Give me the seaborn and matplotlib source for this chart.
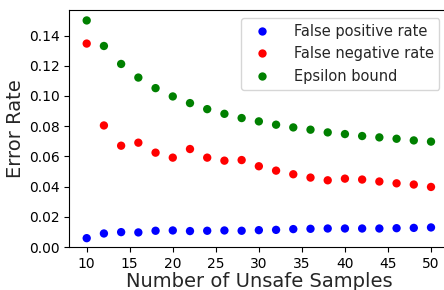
import matplotlib
matplotlib.use("Agg")
import matplotlib.pyplot as plt
import seaborn as sns
import pandas as pd

samples = [10, 12, 14, 16, 18, 20, 22, 24, 26, 28, 30, 32, 34, 36, 38, 40, 42, 44, 46, 48, 50]
false_positive = [0.0059, 0.0090, 0.0099, 0.0097, 0.0108, 0.0110, 0.0106, 0.0108, 0.0110, 0.0108,
                  0.0112, 0.0114, 0.0119, 0.0121, 0.0123, 0.0123, 0.0123, 0.0123, 0.0125, 0.0127, 0.0130]
false_negative = [0.1347, 0.0805, 0.0671, 0.0691, 0.0625, 0.0592, 0.0649, 0.0592, 0.0572, 0.0576,
                  0.0535, 0.0506, 0.0482, 0.0460, 0.0442, 0.0453, 0.0447, 0.0434, 0.0422, 0.0414, 0.0398]
epsilon = [0.1500, 0.1331, 0.1212, 0.1122, 0.1052, 0.0997, 0.0953, 0.0913, 0.0882, 0.0854,
           0.0832, 0.0810, 0.0792, 0.0777, 0.0759, 0.0748, 0.0735, 0.0726, 0.0717, 0.0706, 0.0698]
series_names = ["False positive rate", "False negative rate", "Epsilon bound"]
colors = ["#0000ff", "#ff0000", "#008000"]

df = pd.concat([
    pd.DataFrame({"x": samples, "y": false_positive, "s": series_names[0]}),
    pd.DataFrame({"x": samples, "y": false_negative, "s": series_names[1]}),
    pd.DataFrame({"x": samples, "y": epsilon, "s": series_names[2]}),
])

sns.set_style("ticks")
plt.rcParams['font.family'] = ['DejaVu Sans']

fig = plt.figure(figsize=(4.44, 2.9), dpi=100)
ax = fig.add_axes([0.1565, 0.148, 0.853, 0.819])
sns.scatterplot(data=df, x="x", y="y", hue="s", palette=colors, hue_order=series_names,
                s=36, linewidth=0, ax=ax)
ax.set_xlim(8, 52)
ax.set_ylim(0, 0.1572)
ax.set_xticks([10, 15, 20, 25, 30, 35, 40, 45, 50])
ax.set_yticks([0.0, 0.02, 0.04, 0.06, 0.08, 0.10, 0.12, 0.14])
ax.set_yticklabels(["0.00", "0.02", "0.04", "0.06", "0.08", "0.10", "0.12", "0.14"])
ax.tick_params(labelsize=10, color="black", labelcolor="black")
for sp in ax.spines.values():
    sp.set_color("black")
    sp.set_visible(True)
ax.set_xlabel("Number of Unsafe Samples", fontsize=14, labelpad=1)
ax.set_ylabel("Error Rate", fontsize=14, labelpad=3)
ax.legend(title=None, loc="upper right", fontsize=10.5, frameon=True, borderaxespad=0.6,
          handletextpad=1.2)
fig.savefig("out.png", dpi=100)
